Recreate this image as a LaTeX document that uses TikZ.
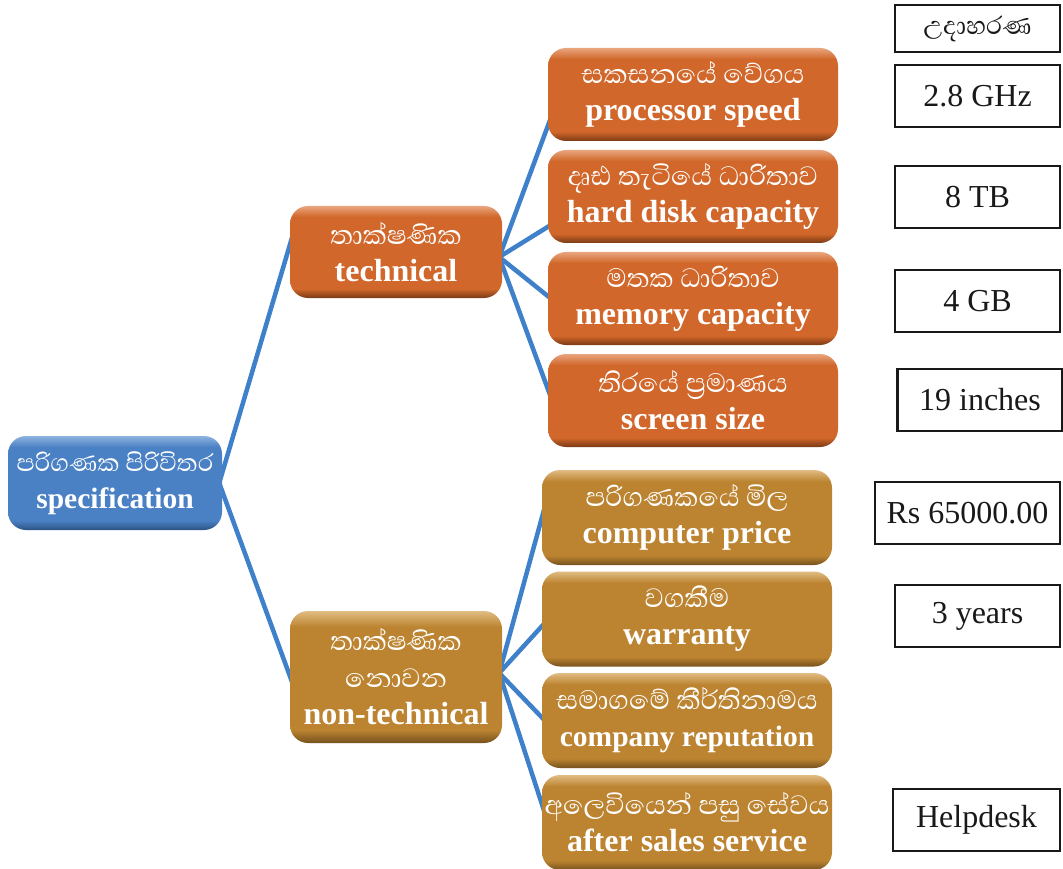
\documentclass[tikz,border=0pt]{standalone}
\usepackage{fontspec}
\setmainfont{Liberation Serif}
\newfontfamily\sinfont[Script=Sinhala]{Abhaya Libre}
\definecolor{lnblue}{HTML}{3E80CA}
\definecolor{bluebase}{HTML}{4A80C4}
\definecolor{bluedark}{HTML}{2B5283}
\definecolor{bluelight}{HTML}{8DB3DF}
\definecolor{orbase}{HTML}{D1672A}
\definecolor{ordark}{HTML}{7A3A15}
\definecolor{orlight}{HTML}{E9A57E}
\definecolor{brbase}{HTML}{BC8431}
\definecolor{brdark}{HTML}{76511E}
\definecolor{brlight}{HTML}{E0BC83}
\pgfdeclareverticalshading{blueshade}{100bp}{color(0bp)=(bluedark); color(25bp)=(bluedark); color(30bp)=(bluebase); color(69bp)=(bluebase); color(75bp)=(bluelight); color(100bp)=(bluelight)}
\pgfdeclareverticalshading{orshade}{100bp}{color(0bp)=(ordark); color(25bp)=(ordark); color(30bp)=(orbase); color(69bp)=(orbase); color(75bp)=(orlight); color(100bp)=(orlight)}
\pgfdeclareverticalshading{brshade}{100bp}{color(0bp)=(brdark); color(25bp)=(brdark); color(30bp)=(brbase); color(69bp)=(brbase); color(75bp)=(brlight); color(100bp)=(brlight)}
\pgfdeclarelayer{background}
\pgfsetlayers{background,main}
\newcommand{\si}{\sinfont\fontsize{34}{37}\selectfont}
\newcommand{\sis}{\sinfont\fontsize{31}{37}\selectfont}
\newcommand{\en}{\bfseries\fontsize{32}{37}\selectfont}
\newcommand{\ens}{\bfseries\fontsize{29.5}{37}\selectfont}
\tikzset{
  cbox/.style={rounded corners=18pt, text=white, align=center, inner sep=0pt, shade, font=\fontsize{32}{37}\selectfont},
  bluebox/.style={cbox, shading=blueshade, minimum width=214pt, minimum height=94pt},
  orbox/.style={cbox, shading=orshade, minimum width=290pt, minimum height=93pt},
  brbox/.style={cbox, shading=brshade, minimum width=290pt, minimum height=95pt},
  midor/.style={cbox, shading=orshade, minimum width=212pt, minimum height=92pt},
  midbr/.style={cbox, shading=brshade, minimum width=212pt, minimum height=132pt},
  exbox/.style={draw=black!90, line width=2.2pt, fill=white, text=black!90, minimum width=165pt, minimum height=62pt, inner sep=0pt, font=\fontsize{32}{34}\selectfont},
  conn/.style={lnblue, line width=4.5pt}
}
\begin{document}
\begin{tikzpicture}[x=1pt,y=-1pt]
\useasboundingbox (0,0) rectangle (1063,869);
% main nodes
\node[bluebox] (spec) at (115,483) {\sis පරිගණක පිරිවිතර\\ \ens specification};
\node[midor] (tech) at (396,252) {\si තාක්ෂණික\\ \en technical};
\node[midbr] (ntech) at (396,677) {\si තාක්ෂණික\\ \si නොවන\\ \en non-technical};
\node[orbox] (ps) at (693,94.5) {\si සකසනයේ වේගය\\ \en processor speed};
\node[orbox] (hd) at (693,196.5) {\si දෘඪ තැටියේ ධාරිතාව\\ \en hard disk capacity};
\node[orbox] (mem) at (693,298.5) {\si මතක ධාරිතාව\\ \en memory capacity};
\node[orbox] (scr) at (693,400.5) {\si තිරයේ ප්‍රමාණය\\ \en screen size};
\node[brbox] (cp) at (687,517.5) {\si පරිගණකයේ මිල\\ \en computer price};
\node[brbox] (war) at (687,619) {\si වගකීම\\ \en warranty};
\node[brbox] (rep) at (687,720.5) {\si සමාගමේ කීර්තිනාමය\\ \ens company reputation};
\node[brbox] (ass) at (687,822.5) {\si අලෙවියෙන් පසු සේවය\\ \en after sales service};
% example boxes
\node[exbox, minimum height=47pt, font=\sinfont\fontsize{32}{34}\selectfont] (exh) at (977.5,28.5) {උදාහරණ};
\node[exbox] (ex1) at (977.5,96) {2.8 GHz};
\node[exbox] (ex2) at (977.5,197) {8 TB};
\node[exbox] (ex3) at (977.5,301) {4 GB};
\node[exbox] (ex4) at (980,400) {19 inches};
\node[exbox, minimum width=185pt] (ex5) at (967.5,513) {Rs 65000.00};
\node[exbox] (ex6) at (977.5,616) {3 years};
\node[exbox, minimum width=167pt] (ex7) at (976.5,820) {Helpdesk};
% connectors
\begin{pgfonlayer}{background}
\fill[white] (0,0) rectangle (1063,869);
\draw[conn] ([xshift=-3pt]spec.east) -- ([xshift=3pt,yshift=17pt]tech.west);
\draw[conn] ([xshift=-3pt]spec.east) -- ([xshift=3pt,yshift=-7pt]ntech.west);
\draw[conn] ([xshift=-3pt,yshift=-5pt]tech.east) -- ([xshift=3pt,yshift=-23.5pt]ps.west);
\draw[conn] ([xshift=-3pt,yshift=-5pt]tech.east) -- ([xshift=3pt,yshift=-28.5pt]hd.west);
\draw[conn] ([xshift=-3pt,yshift=-5pt]tech.east) -- ([xshift=3pt]mem.west);
\draw[conn] ([xshift=-3pt,yshift=-5pt]tech.east) -- ([xshift=3pt,yshift=3.5pt]scr.west);
\draw[conn] ([xshift=-3pt,yshift=4pt]ntech.east) -- ([xshift=3pt,yshift=10.5pt]cp.west);
\draw[conn] ([xshift=-3pt,yshift=4pt]ntech.east) -- ([xshift=3pt,yshift=-4pt]war.west);
\draw[conn] ([xshift=-3pt,yshift=4pt]ntech.east) -- ([xshift=3pt]rep.west);
\draw[conn] ([xshift=-3pt,yshift=4pt]ntech.east) -- ([xshift=3pt,yshift=9.5pt]ass.west);
\end{pgfonlayer}
\end{tikzpicture}
\end{document}
